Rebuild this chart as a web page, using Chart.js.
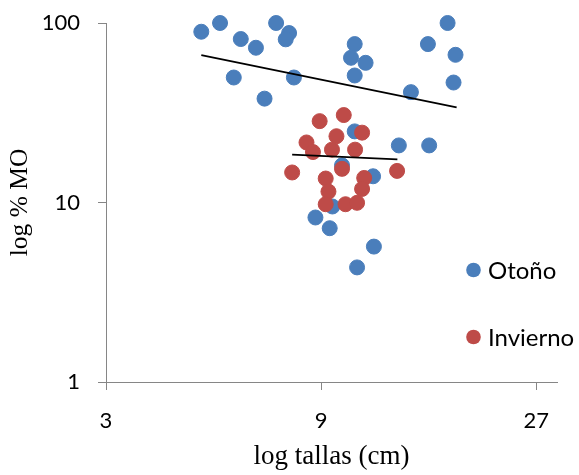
<!DOCTYPE html>
<html lang="es">
<head>
<meta charset="utf-8">
<title>log % MO vs log tallas</title>
<script src="https://cdn.jsdelivr.net/npm/chart.js@4.4.1/dist/chart.umd.min.js"></script>
<style>
    html, body { margin: 0; padding: 0; background: #fff; }
    #wrap { width: 579px; height: 475px; }
</style>
</head>
<body>
<div id="wrap"><canvas id="mo-chart" width="579" height="475"></canvas></div>
<script>
// Otoño (autumn) samples: talla (cm) and % MO
const otonoX = [4.88, 5.37, 5.97, 6.45, 7.15, 7.64, 7.51, 5.76, 7.83, 6.74, 10.68, 10.48, 11.29, 10.68, 14.23,
    17.16, 15.52, 17.87, 17.69, 10.68, 13.38, 15.62, 10.01, 11.73, 9.53, 8.74, 9.40, 11.78, 10.81];
const otonoY = [89.4, 100, 81.4, 72.8, 100, 87.9, 81.1, 49.7, 49.7, 37.9, 76.3, 64.0, 60.0, 51.0, 41.2,
    100, 76.3, 66.5, 46.6, 24.9, 20.8, 20.8, 16.1, 14.0, 9.5, 8.25, 7.19, 5.68, 4.35];

// Invierno (winter) samples
const inviernoX = [10.10, 8.93, 9.73, 11.09, 8.35, 8.63, 9.51, 10.70, 7.76, 10.01, 13.26, 9.21, 11.21, 9.34,
    11.09, 9.21, 10.19, 10.81];
const inviernoY = [30.7, 28.4, 23.4, 24.5, 21.6, 19.1, 19.7, 19.7, 14.7, 15.4, 15.0, 13.6, 13.7, 11.5,
    11.9, 9.78, 9.78, 9.96];

// power trend lines (end points)
const tendOtonoX = [4.88, 17.97];
const tendOtonoY = [66.3, 33.9];
const tendInviernoX = [7.76, 13.28];
const tendInviernoY = [18.5, 17.4];

// axis ticks
const xTicks = [3, 9, 27];
const yTicks = [1, 10, 100];

const seriesNames = ['Otoño', 'Invierno'];
const seriesColors = ['#4a7ebb', '#be4b48'];

document.addEventListener('DOMContentLoaded', () => {
    const toPoints = (xs, ys) => xs.map((x, i) => ({ x, y: ys[i] }));
    const axisGrey = '#868686';

    const scatterSet = (label, xs, ys, color, order) => ({
        label, data: toPoints(xs, ys), order, clip: false,
        backgroundColor: color, borderColor: color, borderWidth: 1,
        pointRadius: 7.5, pointHoverRadius: 7.5, showLine: false
    });
    const trendSet = (xs, ys) => ({
        label: 'tendencia', data: toPoints(xs, ys), order: 1, clip: false,
        showLine: true, borderColor: '#000', borderWidth: 1.75, pointRadius: 0, pointHoverRadius: 0, fill: false
    });

    // keep the plot box fixed: no extra room for tick labels
    const noPad = (scale) => {
        scale.paddingTop = 0; scale.paddingBottom = 0;
        scale.paddingLeft = 0; scale.paddingRight = 0;
    };

    // legend drawn inside the plot, like the original
    const legendInPlot = {
        id: 'legendInPlot',
        afterDraw(chart) {
            const ctx = chart.ctx;
            const rows = [270, 337];
            ctx.save();
            ctx.font = "24px 'Lato', sans-serif";
            ctx.textBaseline = 'middle';
            ctx.textAlign = 'left';
            seriesNames.forEach((name, i) => {
                ctx.beginPath();
                ctx.arc(473.5, rows[i], 7.3, 0, Math.PI * 2);
                ctx.fillStyle = seriesColors[i];
                ctx.fill();
                ctx.fillStyle = '#000';
                ctx.fillText(name, 488, rows[i] + 1);
            });
            ctx.restore();
        }
    };

    const ctx = document.getElementById('mo-chart').getContext('2d');
    new Chart(ctx, {
        type: 'scatter',
        data: {
            datasets: [
                trendSet(tendOtonoX, tendOtonoY),
                trendSet(tendInviernoX, tendInviernoY),
                scatterSet(seriesNames[1], inviernoX, inviernoY, seriesColors[1], 2),
                scatterSet(seriesNames[0], otonoX, otonoY, seriesColors[0], 3)
            ]
        },
        options: {
            responsive: false,
            animation: false,
            devicePixelRatio: 1,
            layout: { padding: { top: 23, right: 22, left: 0, bottom: 0 } },
            plugins: { legend: { display: false }, tooltip: { enabled: false } },
            scales: {
                x: {
                    type: 'logarithmic', min: 3, max: 30, bounds: 'data',
                    afterBuildTicks: (scale) => { scale.ticks = xTicks.map(v => ({ value: v })); },
                    afterFit: (scale) => { scale.height = 93; noPad(scale); },
                    grid: { drawOnChartArea: false, drawTicks: true, tickLength: 8, color: axisGrey },
                    border: { display: true, color: axisGrey, width: 1 },
                    ticks: {
                        autoSkip: false, maxRotation: 0, padding: 18, color: '#000',
                        font: { family: "'Lato', sans-serif", size: 22 },
                        callback: (v) => String(v)
                    },
                    title: {
                        display: true, text: 'log tallas (cm)', color: '#000',
                        font: { family: "'Liberation Serif', serif", size: 27 },
                        padding: { top: 0, bottom: 2 }
                    }
                },
                y: {
                    type: 'logarithmic', min: 1, max: 100, bounds: 'data',
                    afterBuildTicks: (scale) => { scale.ticks = yTicks.map(v => ({ value: v })); },
                    afterFit: (scale) => { scale.width = 106; noPad(scale); },
                    grid: { drawOnChartArea: false, drawTicks: true, tickLength: 8, color: axisGrey },
                    border: { display: true, color: axisGrey, width: 1 },
                    ticks: {
                        autoSkip: false, padding: 18, color: '#000',
                        font: { family: "'Lato', sans-serif", size: 22 },
                        callback: (v) => String(v)
                    },
                    title: {
                        display: true, text: 'log % MO', color: '#000',
                        font: { family: "'Liberation Serif', serif", size: 25.5 },
                        padding: { top: 5, bottom: 0 }
                    }
                }
            }
        },
        plugins: [legendInPlot]
    });
});
</script>
</body>
</html>
